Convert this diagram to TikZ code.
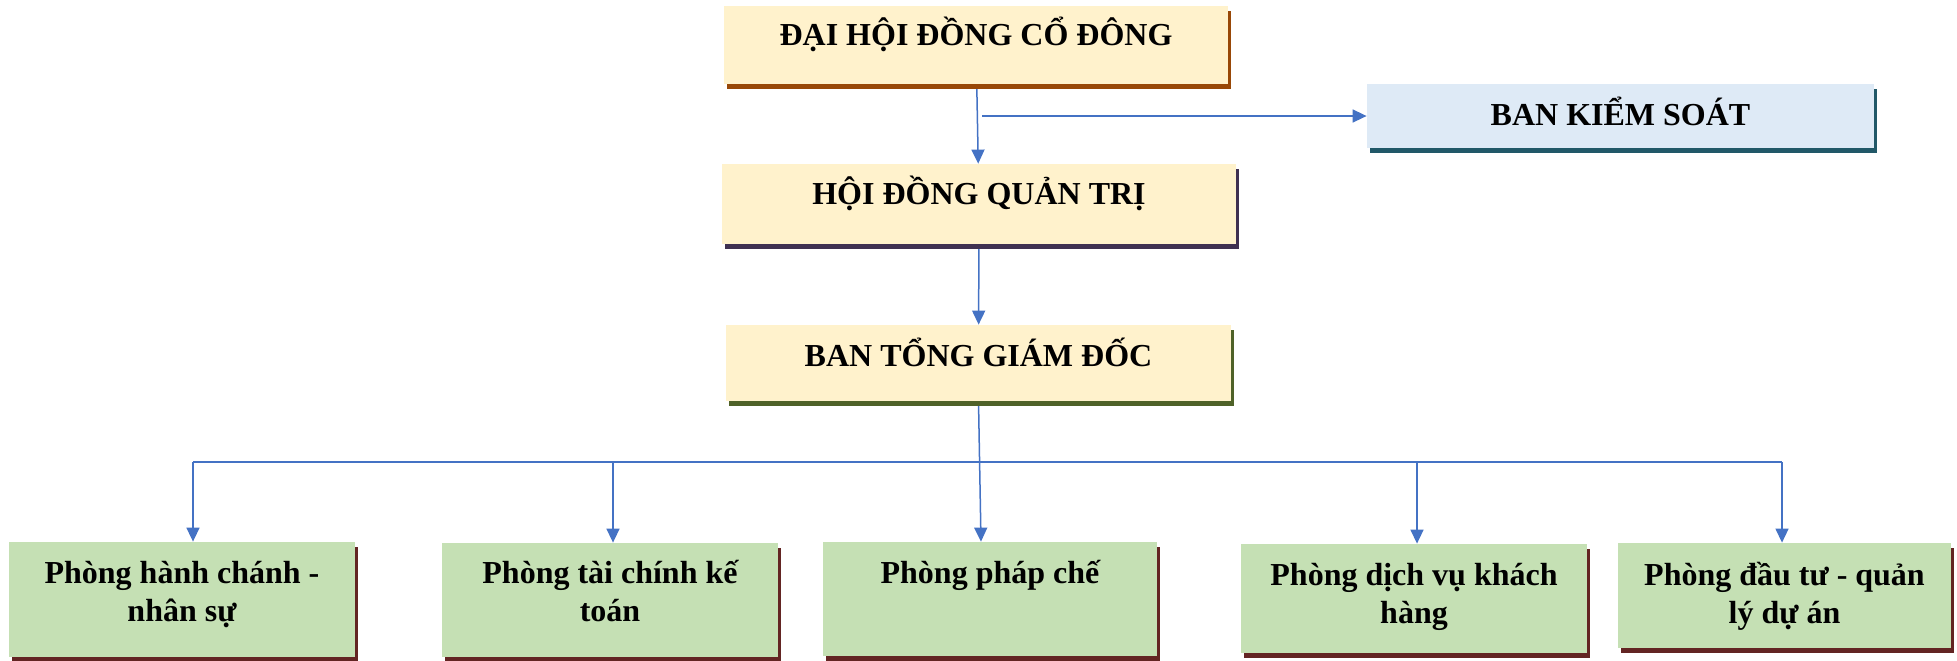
\documentclass[tikz,border=0pt]{standalone}
\usepackage{fontspec}
\setmainfont{Liberation Serif}
\usetikzlibrary{arrows.meta,positioning,calc,backgrounds}
\definecolor{leadY}{RGB}{255,242,204}
\definecolor{ctrlB}{RGB}{222,234,246}
\definecolor{deptG}{RGB}{197,224,180}
\definecolor{shBrown}{RGB}{152,72,7}
\definecolor{shTeal}{RGB}{33,88,104}
\definecolor{shPurple}{RGB}{63,49,81}
\definecolor{shOlive}{RGB}{79,98,40}
\definecolor{shRed}{RGB}{99,37,35}
\definecolor{linkB}{RGB}{68,114,196}

\begin{document}
\begin{tikzpicture}[x=0.5pt,y=-0.5pt,
  box/.style={inner sep=0pt, text height=12pt, font=\bfseries\fontsize{16}{19.2}\selectfont},
  backdrop/.style={preaction={fill=#1, transform canvas={xshift=1.5pt,yshift=-2.5pt}}},
  wire/.style={draw=linkB, line width=0.75pt},
  link/.style={wire, -{Triangle[length=7pt,width=6.5pt]}}]
 \useasboundingbox (0,0) rectangle (1957,660);
 % upper levels
 \node[box, fill=leadY, backdrop=shBrown, minimum width=252pt, minimum height=39pt, text depth=11.5pt]
   (dhdcd) at (976,45) {ĐẠI HỘI ĐỒNG CỔ ĐÔNG};
 \node[box, fill=ctrlB, backdrop=shTeal, minimum width=253.5pt, minimum height=32pt, text depth=3pt]
   (bks) at (1620.5,116) {BAN KIỂM SOÁT};
 \node[box, fill=leadY, backdrop=shPurple, minimum width=257pt, minimum height=40pt, text depth=12pt]
   (hdqt) at (979,204) {HỘI ĐỒNG QUẢN TRỊ};
 \node[box, fill=leadY, backdrop=shOlive, minimum width=252.5pt, minimum height=38pt, text depth=9pt]
   (btgd) at (978.5,363) {BAN TỔNG GIÁM ĐỐC};
 % departments
 \foreach \n/\cx/\cy/\w/\h/\td/\lbl in {
   p1/182/599.5/173/57.5/28/{Phòng hành chánh -\\ nhân sự},
   p2/610/600/168/57/28.5/{Phòng tài chính kế\\ toán},
   p3/990/599/167/57/27.5/{Phòng pháp chế},
   p4/1414/598.5/173/54.5/25/{Phòng dịch vụ khách\\ hàng},
   p5/1784.5/595.5/166.5/52.5/22/{Phòng đầu tư - quản\\ lý dự án}}
   \node[box, fill=deptG, backdrop=shRed, text width=\w pt, align=flush center,
         minimum height=\h pt, text depth=\td pt] (\n) at (\cx,\cy) {\lbl};
 % connectors
 \begin{scope}[on background layer]
  \draw[link] (dhdcd) -- (hdqt);
  \coordinate (tap) at (982,116);
  \draw[link] (tap) -- (bks.west);
  \draw[link] (hdqt) -- (btgd);
  \draw[link] (btgd.south) -- ($(p3.north)+(-9,0)$);
  \coordinate (busL) at (193,462);
  \coordinate (busR) at (1782,462);
  \draw[wire] (busL) -- (busR);
  \draw[link] (busL) -- (busL |- p1.north);
  \foreach \n in {p2,p4}
    \draw[link] ($(\n.north |- busL)+(3,0)$) -- ($(\n.north)+(3,0)$);
  \draw[link] (busR) -- (busR |- p5.north);
 \end{scope}
\end{tikzpicture}
\end{document}
